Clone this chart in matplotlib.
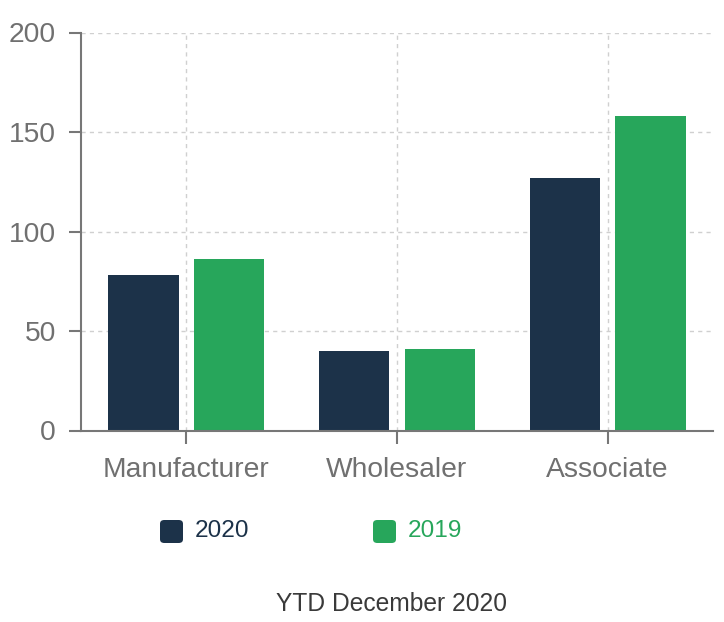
import matplotlib
matplotlib.use("Agg")
import matplotlib.pyplot as plt
from matplotlib.patches import FancyBboxPatch
import numpy as np

categories = ["Manufacturer", "Wholesaler", "Associate"]
values_2020 = [78, 40, 127]
values_2019 = [86, 41, 158]
series_names = ["2020", "2019"]
yticks = [0, 50, 100, 150, 200]
caption = "YTD December 2020"

c2020 = "#1c3249"
c2019 = "#27a65b"
axis_col = "#777777"
label_col = "#707070"

plt.rcParams['font.family'] = ['Liberation Sans', 'DejaVu Sans']

W, H = 724, 622
fig = plt.figure(figsize=(W / 100, H / 100), dpi=100)
ax = fig.add_axes([81 / W, 1 - 430.5 / H, 632 / W, 398 / H])

x = np.arange(len(categories))
bw = 0.333
off = 0.203
ax.bar(x - off, values_2020, width=bw, color=c2020, zorder=3)
ax.bar(x + off, values_2019, width=bw, color=c2019, zorder=3)

ax.set_xlim(-0.5, len(categories) - 0.5)
ax.set_ylim(0, 200)
ax.set_yticks(yticks)
ax.set_xticks(x)
ax.set_xticklabels(categories)

ax.grid(True, color="#d0d0d0", linestyle=(0, (3, 3)), linewidth=1, zorder=0)
for s in ["top", "right"]:
    ax.spines[s].set_visible(False)
for s in ["left", "bottom"]:
    ax.spines[s].set_color(axis_col)
    ax.spines[s].set_linewidth(1.5)
    ax.spines[s].set_zorder(4)
ax.tick_params(axis="both", colors=axis_col, labelcolor=label_col, length=9, width=1.5,
               labelsize=20.3, pad=9)
ax.tick_params(axis="x", pad=10)

# legend
def px(xp, yp):
    return xp / W, 1 - yp / H

for xs, col, name in [(160, c2020, series_names[0]), (373, c2019, series_names[1])]:
    x0, y0 = px(xs, 543)
    patch = FancyBboxPatch((x0, y0), 23 / W, 23 / H,
                           boxstyle="round,pad=0,rounding_size=0.006",
                           transform=fig.transFigure, facecolor=col, edgecolor="none")
    fig.patches.append(patch)
    tx, ty = px(xs + 35, 531)
    fig.text(tx, ty, name, color=col, fontsize=17.6, va="center", ha="left")

cx, cy = px(392, 604)
fig.text(cx, cy, caption, color="#3a3a3a", fontsize=17.7, ha="center", va="center")

fig.savefig("out.png", dpi=100)
